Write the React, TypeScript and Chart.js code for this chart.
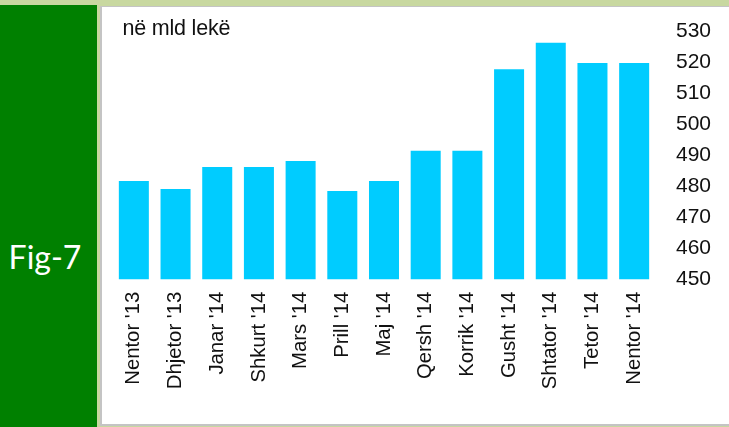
import React, { useEffect, useRef } from "react";
import { Chart, registerables } from "chart.js";

Chart.register(...registerables);

const categories = [
  "Nentor '13", "Dhjetor '13", "Janar '14", "Shkurt '14", "Mars '14", "Prill '14",
  "Maj '14", "Qersh '14", "Korrik '14", "Gusht '14", "Shtator '14", "Tetor '14", "Nentor '14",
];
const values = [481.8, 479.2, 486.3, 486.3, 488.2, 478.5, 481.8, 491.5, 491.5, 517.9, 526.4, 519.9, 519.9];
const yMin = 450;
const yMax = 530;
const yStep = 10;
const unitLabel = "në mld lekë";
const figLabel = "Fig-7";

export default function App() {
  const ref = useRef<HTMLCanvasElement | null>(null);

  useEffect(() => {
    if (!ref.current) return;
    const chart = new Chart(ref.current, {
      type: "bar",
      data: {
        labels: categories,
        datasets: [
          {
            data: values,
            backgroundColor: "#00CCFF",
            borderWidth: 0,
            categoryPercentage: 1,
            barPercentage: 0.72,
          },
        ],
      },
      options: {
        animation: false,
        responsive: false,
        maintainAspectRatio: false,
        layout: { padding: { left: 11, top: 24.7, right: 0, bottom: 0 } },
        plugins: { legend: { display: false }, tooltip: { enabled: false }, title: { display: false } },
        scales: {
          x: {
            grid: { display: false, drawTicks: false },
            border: { display: false },
            ticks: {
              maxRotation: 90,
              minRotation: 90,
              autoSkip: false,
              padding: 12.5,
              color: "#111",
              font: { family: "Liberation Sans, Arial, sans-serif", size: 20.3 },
            },
            afterFit: (s: any) => { s.height = 144.7; },
          },
          y: {
            position: "right",
            min: yMin,
            max: yMax,
            grid: { display: false, drawTicks: false },
            border: { display: false },
            ticks: {
              stepSize: yStep,
              padding: 21,
              color: "#111",
              font: { family: "Liberation Sans, Arial, sans-serif", size: 21 },
            },
            afterFit: (s: any) => {
              s.width = 74;
              s.paddingTop = 0;
              s.paddingBottom = 0;
            },
          },
        },
      },
    });
    return () => chart.destroy();
  }, []);

  return (
    <div style={{ position: "fixed", left: 0, top: 0, width: 729, height: 427, background: "#c8d8a0", overflow: "hidden" }}>
      <div style={{ position: "absolute", left: 0, top: 5, width: 97, height: 422, background: "#008000" }}>
        <div style={{ position: "absolute", left: 0, width: 90, top: 234, textAlign: "center", color: "#fff", fontFamily: "Lato, 'Open Sans', sans-serif", fontSize: 32, lineHeight: "36px" }}>
          {figLabel}
        </div>
      </div>
      <div style={{ position: "absolute", left: 100, top: 6, width: 629, height: 420, background: "#c4c4c4" }} />
      <div style={{ position: "absolute", left: 102, top: 7, width: 627, height: 417, background: "#fff" }}>
        <canvas ref={ref} width={627} height={417} style={{ display: "block", width: 627, height: 417 }} />
        <div style={{ position: "absolute", left: 20.5, top: 9, color: "#111", fontFamily: "Liberation Sans, Arial, sans-serif", fontSize: 21.5, lineHeight: "24px", letterSpacing: "-0.2px", whiteSpace: "nowrap" }}>
          {unitLabel}
        </div>
      </div>
    </div>
  );
}
